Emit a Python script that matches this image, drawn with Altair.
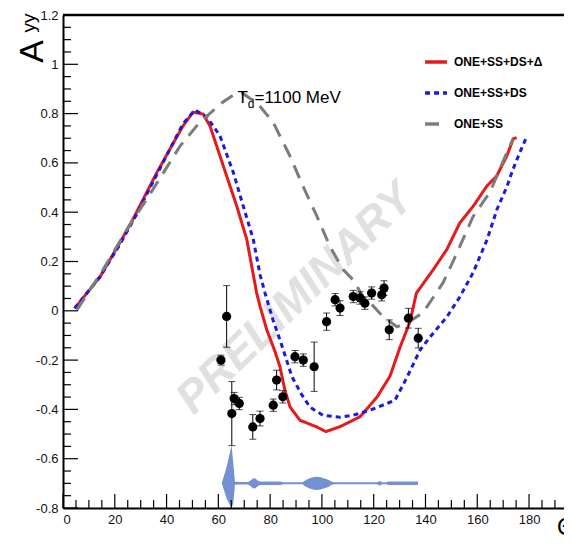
import altair as alt
import pandas as pd

# ---------------- data ----------------
model_names = ["ONE+SS+DS+Δ", "ONE+SS+DS", "ONE+SS"]

red_x = [4.5, 14.3, 22.0, 27.0, 36.3, 41.3, 46.3, 50.2, 54.1, 56.8, 61.9, 67.1, 71.0, 74.8, 76.1,
         78.7, 81.9, 83.8, 85.7, 87.7, 91.5, 98.0, 101.5, 107.0, 114.7, 121.3, 126.3, 130.2, 134.0,
         136.5, 143.0, 148.2, 153.3, 158.5, 163.7, 167.5, 171.4, 173.9, 175.2]
red_y = [0.01, 0.138, 0.277, 0.371, 0.562, 0.656, 0.749, 0.806, 0.798, 0.749, 0.588, 0.425, 0.289,
         0.072, 0.018, -0.077, -0.166, -0.227, -0.322, -0.39, -0.444, -0.471, -0.49, -0.47, -0.43,
         -0.35, -0.265, -0.147, -0.045, 0.072, 0.167, 0.248, 0.357, 0.425, 0.506, 0.547, 0.628,
         0.697, 0.703]

blue_x = [4.5, 14.3, 22.0, 27.8, 36.3, 41.3, 46.3, 51.0, 55.6, 60.6, 65.8, 69.6, 73.5, 76.1, 78.0,
          81.1, 83.8, 88.5, 92.3, 95.4, 100.4, 107.0, 112.0, 118.6, 126.3, 128.2, 132.9, 137.9,
          141.8, 148.3, 153.3, 158.4, 163.8, 167.6, 171.5, 173.8, 176.5, 179.2]
blue_y = [0.01, 0.138, 0.27, 0.379, 0.554, 0.656, 0.758, 0.815, 0.786, 0.71, 0.561, 0.425, 0.289,
          0.147, 0.073, -0.037, -0.118, -0.269, -0.342, -0.391, -0.424, -0.432, -0.424, -0.403,
          -0.371, -0.363, -0.269, -0.159, -0.106, -0.024, 0.057, 0.155, 0.289, 0.411, 0.505,
          0.574, 0.644, 0.709]

grey_x = [5.4, 15.5, 24.7, 34.8, 45.2, 52.9, 61.8, 66.4, 69.0, 75.3, 81.1, 87.7, 92.7, 98.1, 103.1,
          108.2, 112.0, 115.9, 118.6, 123.6, 129.0, 132.9, 139.0, 146.8, 152.2, 158.4, 164.9,
          171.5, 173.8]
grey_y = [0.004, 0.167, 0.33, 0.493, 0.668, 0.766, 0.847, 0.88, 0.885, 0.839, 0.766, 0.627, 0.505,
          0.383, 0.261, 0.167, 0.126, 0.057, 0.033, -0.024, -0.065, -0.049, -0.008, 0.114, 0.236,
          0.383, 0.481, 0.644, 0.697]

pt_x = [61.0, 63.2, 65.2, 66.1, 68.1, 73.3, 76.1, 81.2, 82.5, 84.9, 89.6, 92.8, 97.0, 101.8, 105.1,
        107.0, 112.1, 114.7, 116.6, 119.2, 123.1, 124.0, 126.0, 133.4, 137.2]
pt_y = [-0.20, -0.023, -0.417, -0.356, -0.376, -0.471, -0.437, -0.383, -0.281, -0.349, -0.186,
        -0.20, -0.227, -0.044, 0.045, 0.011, 0.058, 0.052, 0.031, 0.072, 0.065, 0.092, -0.077,
        -0.03, -0.111]
pt_err = [0.02, 0.125, 0.13, 0.025, 0.025, 0.05, 0.03, 0.025, 0.04, 0.025, 0.025, 0.025, 0.10,
          0.035, 0.025, 0.03, 0.025, 0.025, 0.025, 0.025, 0.025, 0.03, 0.04, 0.04, 0.04]

band_x = [61.3, 63.3, 65.1, 65.8, 66.4, 68.0, 71.5, 72.5, 73.3, 74.2, 75.2, 76.0, 84.0, 85.0, 92.5,
          93.5, 95.0, 96.5, 98.0, 99.5, 101.0, 102.5, 103.8, 105.0, 121.4, 122.3, 123.2, 125.0,
          125.5, 137.1]
band_hi = [-0.70, -0.63, -0.545, -0.62, -0.694, -0.695, -0.695, -0.688, -0.68, -0.679, -0.688,
           -0.693, -0.693, -0.696, -0.696, -0.688, -0.68, -0.675, -0.673, -0.675, -0.68, -0.685,
           -0.694, -0.696, -0.696, -0.69, -0.696, -0.696, -0.693, -0.693]
band_lo = [-0.70, -0.765, -0.80, -0.78, -0.706, -0.705, -0.705, -0.712, -0.72, -0.721, -0.712,
           -0.707, -0.707, -0.704, -0.704, -0.712, -0.72, -0.725, -0.727, -0.725, -0.72, -0.715,
           -0.706, -0.704, -0.704, -0.71, -0.704, -0.704, -0.707, -0.707]

x_ticks = [0, 20, 40, 60, 80, 100, 120, 140, 160, 180]
y_ticks = [-0.8, -0.6, -0.4, -0.2, 0, 0.2, 0.4, 0.6, 0.8, 1, 1.2]
x_minor = [v for v in range(5, 195, 5) if v % 20 != 0]
y_minor = [round(-0.8 + 0.05 * i, 2) for i in range(41) if i % 4 != 0]

# ---------------- styles ----------------
W, H = 501, 493
XMAX = 193.5
FONT = "Liberation Sans"
model_colors = ["#e41a1c", "#1a1ae0", "#7c7c7c"]
model_dashes = [[1, 0], [5, 4], [14, 9]]

XS = alt.Scale(domain=[0, XMAX], nice=False, zero=False)
YS = alt.Scale(domain=[-0.8, 1.2], nice=False, zero=False)


def X(field, **kw):
    return alt.X(field, type="quantitative", scale=XS, **kw)


def Y(field, **kw):
    return alt.Y(field, type="quantitative", scale=YS, **kw)


def XD(v):
    return alt.XDatum(v, type="quantitative", scale=XS)


def YD(v):
    return alt.YDatum(v, type="quantitative", scale=YS)


curves = pd.concat([
    pd.DataFrame({"model": model_names[0], "x": red_x, "y": red_y, "i": range(len(red_x))}),
    pd.DataFrame({"model": model_names[1], "x": blue_x, "y": blue_y, "i": range(len(blue_x))}),
    pd.DataFrame({"model": model_names[2], "x": grey_x, "y": grey_y, "i": range(len(grey_x))}),
])
pts = pd.DataFrame({"x": pt_x, "y": pt_y, "e": pt_err})
pts["lo"] = pts["y"] - pts["e"]
pts["hi"] = pts["y"] + pts["e"]
band = pd.DataFrame({"x": band_x, "hi": band_hi, "lo": band_lo})

axis_common = dict(ticks=False, tickSize=0, domain=True, domainColor="black", domainWidth=2,
                   grid=False, labelFont=FONT, labelFontSize=13, labelColor="#111",
                   labelPadding=5)

band_layer = alt.Chart(band).mark_area(color="#7391d2", opacity=1).encode(
    x=X("x", axis=alt.Axis(values=x_ticks, title=None, **axis_common)),
    y=Y("hi", axis=alt.Axis(
        values=y_ticks,
        labelExpr="datum.value < 0 ? '-' + format(-datum.value, '~g') : format(datum.value, '~g')",
        title="A", titleFont=FONT, titleFontSize=34, titleFontWeight="normal", titleColor="black",
        titleAngle=270, titleAlign="center", titleBaseline="middle", titleX=-31, titleY=36,
        **axis_common)),
    y2="lo",
)

watermark = alt.Chart(pd.DataFrame({"t": ["PRELIMINARY"]})).mark_text(
    font=FONT, fontSize=45, fontWeight="bold", fontStyle="italic",
    color="#e0e0e0", align="center", baseline="middle", angle=316
).encode(x=XD(89.6), y=YD(0.05), text="t:N")

legend = alt.Legend(title=None, orient="none", legendX=360, legendY=34, symbolType="stroke",
                    symbolSize=480, symbolStrokeWidth=3.5, labelFont=FONT, labelFontSize=12,
                    labelFontWeight="bold", labelColor="black", rowPadding=11, labelOffset=5,
                    padding=0)

lines = alt.Chart(curves).mark_line(strokeWidth=3).encode(
    x=X("x"), y=Y("y"),
    color=alt.Color("model:N", scale=alt.Scale(domain=model_names, range=model_colors),
                    legend=legend),
    strokeDash=alt.StrokeDash("model:N", scale=alt.Scale(domain=model_names, range=model_dashes),
                              legend=legend),
    detail="model:N",
    order="i:Q",
)

err = alt.Chart(pts).mark_rule(color="black", strokeWidth=1).encode(x=X("x"), y=Y("lo"), y2="hi")
caps_lo = alt.Chart(pts).mark_tick(color="black", orient="horizontal", size=7, thickness=1).encode(
    x=X("x"), y=Y("lo"))
caps_hi = alt.Chart(pts).mark_tick(color="black", orient="horizontal", size=7, thickness=1).encode(
    x=X("x"), y=Y("hi"))
points = alt.Chart(pts).mark_point(filled=True, color="black", opacity=1, size=85,
                                   shape="circle").encode(x=X("x"), y=Y("y"))

xmaj = alt.Chart(pd.DataFrame({"x": x_ticks})).mark_rule(color="black", strokeWidth=1.2).encode(
    x=X("x"), y=alt.value(H), y2=alt.value(H - 14))
xmin = alt.Chart(pd.DataFrame({"x": x_minor})).mark_rule(color="black", strokeWidth=1.2).encode(
    x=X("x"), y=alt.value(H), y2=alt.value(H - 8))
ymaj = alt.Chart(pd.DataFrame({"y": y_ticks})).mark_rule(color="black", strokeWidth=1.2).encode(
    y=Y("y"), x=alt.value(0), x2=alt.value(15))
ymin = alt.Chart(pd.DataFrame({"y": y_minor})).mark_rule(color="black", strokeWidth=1.2).encode(
    y=Y("y"), x=alt.value(0), x2=alt.value(8))
top = alt.Chart(pd.DataFrame({"a": [0]})).mark_rule(color="black", strokeWidth=2.5).encode(
    x=alt.value(0), x2=alt.value(W), y=alt.value(0))

t_main = alt.Chart(pd.DataFrame({"t": ["T"]})).mark_text(
    font=FONT, fontSize=17, align="left", baseline="alphabetic", color="black"
).encode(x=XD(67.4), y=YD(0.845), text="t:N")
t_sub = alt.Chart(pd.DataFrame({"t": ["d"]})).mark_text(
    font=FONT, fontSize=12, align="left", baseline="alphabetic", color="black"
).encode(x=XD(71.4), y=YD(0.822), text="t:N")
t_rest = alt.Chart(pd.DataFrame({"t": ["=1100 MeV"]})).mark_text(
    font=FONT, fontSize=17, align="left", baseline="alphabetic", color="black"
).encode(x=XD(74.0), y=YD(0.845), text="t:N")

ytitle_s = alt.Chart(pd.DataFrame({"t": ["yy"]})).mark_text(
    font=FONT, fontSize=19, align="center", baseline="middle", color="black", angle=270
).encode(x=alt.value(-34), y=alt.value(8), text="t:N")
xtitle = alt.Chart(pd.DataFrame({"t": ["Θ"]})).mark_text(
    font=FONT, fontSize=24, align="left", baseline="alphabetic", color="black"
).encode(x=alt.value(494), y=alt.value(520), text="t:N")

chart = alt.layer(
    band_layer, watermark, lines, err, caps_lo, caps_hi, points,
    xmaj, xmin, ymaj, ymin, top, t_main, t_sub, t_rest, ytitle_s, xtitle
).properties(
    width=W, height=H,
    padding={"left": 55, "top": 7, "right": 0, "bottom": 28},
    autosize=alt.AutoSizeParams(type="none"),
    background="white",
).configure_view(stroke=None)

chart.save("out.html", embed_options={"renderer": "svg", "actions": False})
